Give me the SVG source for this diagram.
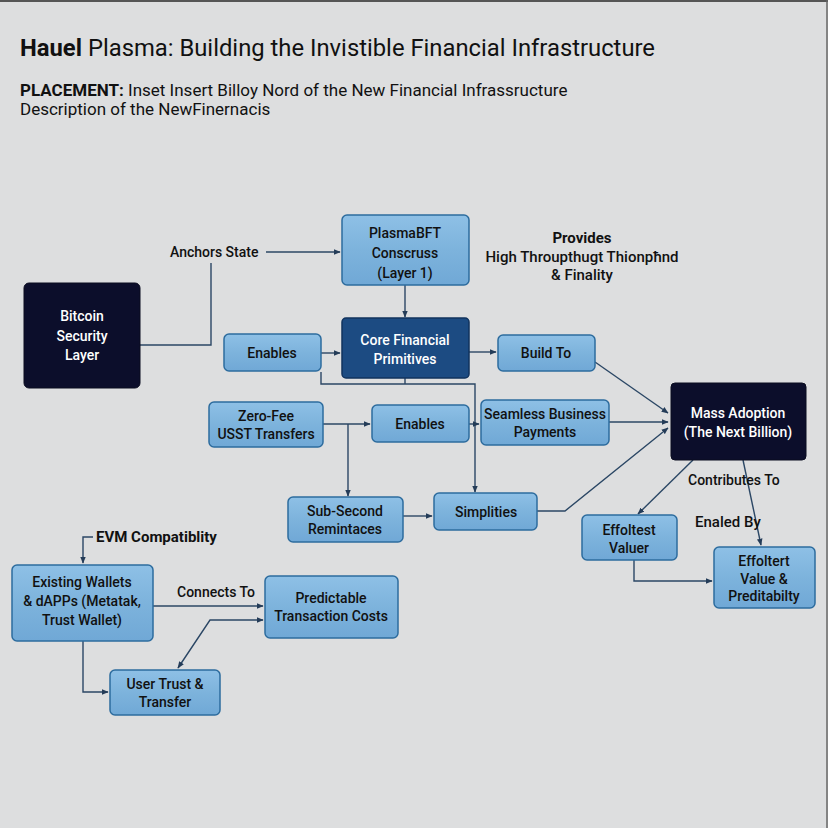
<svg xmlns="http://www.w3.org/2000/svg" width="828" height="828" viewBox="0 0 828 828">
<defs>
<linearGradient id="lb" x1="0" y1="0" x2="0" y2="1">
<stop offset="0" stop-color="#8ec0e6"/><stop offset="0.5" stop-color="#7db3dc"/><stop offset="1" stop-color="#70a8d6"/>
</linearGradient>
<marker id="ar" viewBox="0 0 10 10" refX="9" refY="5" markerWidth="7" markerHeight="7" orient="auto-start-reverse" markerUnits="userSpaceOnUse">
<path d="M0,1 L10,5 L0,9 z" fill="#243c58"/>
</marker>
<style>
.t{font-family:Roboto,"Liberation Sans",Arial,sans-serif;fill:#111}
.n{fill:url(#lb);stroke:#2d6c9e;stroke-width:1.5}
.dk{fill:#0c0e2b;stroke:#0a0c20;stroke-width:1}
.cf{fill:#1c4b82;stroke:#10335e;stroke-width:1.5}
.l{font-family:Roboto,"Liberation Sans",Arial,sans-serif;font-size:14px;font-weight:500;fill:#111;text-anchor:middle}
.w{fill:#fff}
.c{fill:none;stroke:#2b4765;stroke-width:1.4}
</style>
</defs>
<rect width="828" height="828" fill="#dddedf"/>
<line x1="0" y1="1" x2="828" y2="1" stroke="#555" stroke-width="2"/>
<line x1="827" y1="0" x2="827" y2="828" stroke="#666" stroke-width="1.5"/>

<g id="title">
<text class="t" x="20" y="56" font-size="23.8"><tspan font-weight="bold">Hauel</tspan> Plasma: Building the Invistible Financial Infrastructure</text>
<text class="t" x="20" y="96" font-size="17"><tspan font-weight="bold">PLACEMENT:</tspan> Inset Insert Billoy Nord of the New Financial Infrassructure</text>
<text class="t" x="20" y="115" font-size="17">Description of the NewFinernacis</text>
</g>

<g id="connectors">
<path class="c" d="M266,252 H340" marker-end="url(#ar)"/>
<path class="c" d="M140,345 H211 V263"/>
<path class="c" d="M405,285 V317" marker-end="url(#ar)"/>
<path class="c" d="M321,353 H340" marker-end="url(#ar)"/>
<path class="c" d="M321,372 V384 H475 V492" marker-end="url(#ar)"/>
<path class="c" d="M405,378 V384"/>
<path class="c" d="M469,352 H496" marker-end="url(#ar)"/>
<path class="c" d="M595,362 L668,413" marker-end="url(#ar)"/>
<path class="c" d="M323,424 H370" marker-end="url(#ar)"/>
<path class="c" d="M348,424 V496" marker-end="url(#ar)"/>
<path class="c" d="M469,424 H479" marker-end="url(#ar)"/>
<path class="c" d="M609,422 H668" marker-end="url(#ar)"/>
<path class="c" d="M403,516 H432" marker-end="url(#ar)"/>
<path class="c" d="M537,511 H565 L668,428" marker-end="url(#ar)"/>
<path class="c" d="M693,460 L638,514" marker-end="url(#ar)"/>
<path class="c" d="M743,460 L761,545" marker-end="url(#ar)"/>
<path class="c" d="M634,560 V581 H712" marker-end="url(#ar)"/>
<path class="c" d="M93,537 H83 V563" marker-end="url(#ar)"/>
<path class="c" d="M153,606 H263" marker-end="url(#ar)"/>
<path class="c" d="M178,668 L210,620 H263" marker-start="url(#ar)" marker-end="url(#ar)"/>
<path class="c" d="M83,641 V692 H108" marker-end="url(#ar)"/>
</g>

<g id="labels">
<text class="t" x="170" y="257" font-size="14" font-weight="500">Anchors State</text>
<text class="t" x="582" y="243" font-size="15" font-weight="bold" text-anchor="middle">Provides</text>
<text class="t" x="582" y="262" font-size="15" font-weight="500" text-anchor="middle">High Throupthugt Thionpħnd</text>
<text class="t" x="582" y="280" font-size="15" font-weight="500" text-anchor="middle">&amp; Finality</text>
<text class="t" x="688" y="485" font-size="14" font-weight="500">Contributes To</text>
<text class="t" x="695" y="527" font-size="15" font-weight="500">Enaled By</text>
<text class="t" x="96" y="542" font-size="15" font-weight="bold">EVM Compatiblity</text>
<text class="t" x="177" y="597" font-size="14" font-weight="500">Connects To</text>
</g>

<g id="plasmabft"><rect class="n" x="342" y="215" width="127" height="70" rx="5"/>
<text class="l" font-weight="bold" x="405" y="238">PlasmaBFT</text><text class="l" font-weight="bold" x="405" y="258">Conscruss</text><text class="l" font-weight="bold" x="405" y="278">(Layer 1)</text></g>

<g id="bitcoin"><rect class="dk" x="24" y="283" width="116" height="105" rx="5"/>
<text class="l w" x="82" y="321">Bitcoin</text><text class="l w" x="82" y="341">Security</text><text class="l w" x="82" y="360">Layer</text></g>

<g id="core"><rect class="cf" x="342" y="318" width="127" height="60" rx="4"/>
<text class="l w" x="405" y="345">Core Financial</text><text class="l w" x="405" y="364">Primitives</text></g>

<g id="enables1"><rect class="n" x="224" y="334" width="97" height="37" rx="5"/>
<text class="l" x="272" y="358">Enables</text></g>

<g id="buildto"><rect class="n" x="498" y="335" width="97" height="36" rx="5"/>
<text class="l" x="546" y="358">Build To</text></g>

<g id="mass"><rect class="dk" x="671" y="383" width="135" height="77" rx="4"/>
<text class="l w" x="738" y="418">Mass Adoption</text><text class="l w" x="738" y="437">(The Next Billion)</text></g>

<g id="zerofee"><rect class="n" x="209" y="402" width="114" height="45" rx="5"/>
<text class="l" x="266" y="421">Zero-Fee</text><text class="l" x="266" y="439">USST Transfers</text></g>

<g id="enables2"><rect class="n" x="372" y="405" width="97" height="37" rx="5"/>
<text class="l" x="420" y="429">Enables</text></g>

<g id="seamless"><rect class="n" x="481" y="400" width="128" height="45" rx="5"/>
<text class="l" x="545" y="419">Seamless Business</text><text class="l" x="545" y="437">Payments</text></g>

<g id="subsecond"><rect class="n" x="288" y="497" width="115" height="45" rx="5"/>
<text class="l" x="345" y="516">Sub-Second</text><text class="l" x="345" y="534">Remintaces</text></g>

<g id="simplities"><rect class="n" x="434" y="493" width="103" height="37" rx="5"/>
<text class="l" x="486" y="517">Simplities</text></g>

<g id="effoltest"><rect class="n" x="582" y="515" width="95" height="45" rx="5"/>
<text class="l" x="629" y="535">Effoltest</text><text class="l" x="629" y="553">Valuer</text></g>

<g id="effoltert"><rect class="n" x="714" y="547" width="101" height="61" rx="5"/>
<text class="l" x="764" y="566">Effoltert</text><text class="l" x="764" y="584">Value &amp;</text><text class="l" x="764" y="601">Preditabilty</text></g>

<g id="wallets"><rect class="n" x="12" y="565" width="141" height="76" rx="5"/>
<text class="l" font-weight="bold" x="82" y="587">Existing Wallets</text><text class="l" font-weight="bold" x="82" y="606">&amp; dAPPs (Metatak,</text><text class="l" font-weight="bold" x="82" y="625">Trust Wallet)</text></g>

<g id="predictable"><rect class="n" x="265" y="576" width="133" height="62" rx="5"/>
<text class="l" x="331" y="603">Predictable</text><text class="l" x="331" y="621">Transaction Costs</text></g>

<g id="usertrust"><rect class="n" x="110" y="670" width="110" height="45" rx="5"/>
<text class="l" x="165" y="689">User Trust &amp;</text><text class="l" x="165" y="707">Transfer</text></g>
</svg>
